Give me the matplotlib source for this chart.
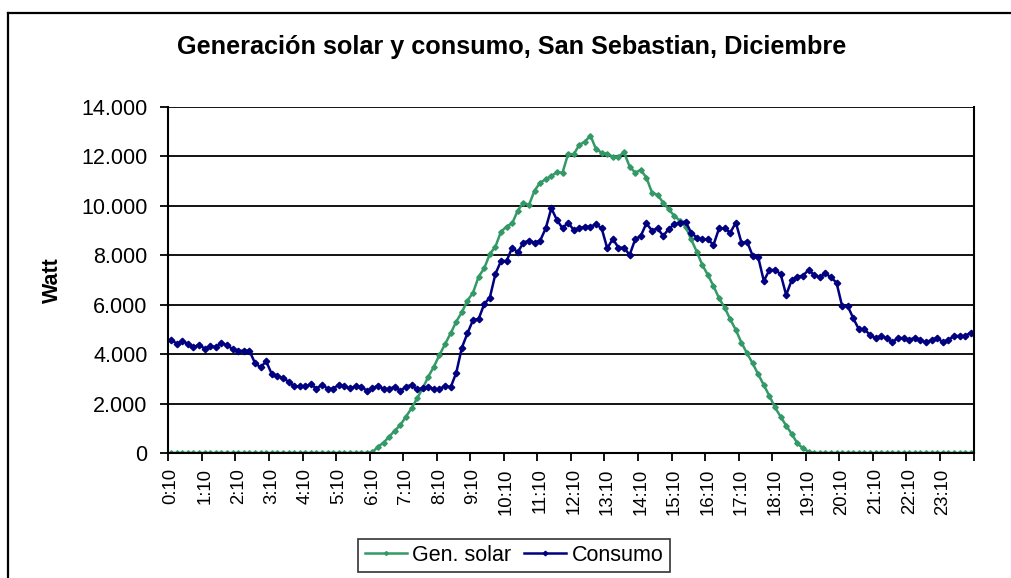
import numpy as np
import matplotlib
matplotlib.use("Agg")
import matplotlib.pyplot as plt
from matplotlib.lines import Line2D

plt.rcParams['font.family'] = ['Liberation Sans', 'DejaVu Sans']

# tiempos cada 10 minutos, de 0:10 a 24:00
horas = [f"{(m // 60)}:{m % 60:02d}" for m in range(10, 24 * 60 + 1, 10)]

gen_solar = [0] * 36 + [
    30, 256, 418, 661, 904, 1133, 1470, 1808, 2212, 2617, 3089, 3494, 3966,
    4411, 4843, 5315, 5700, 6165, 6489, 7136, 7473, 8054,
    8350, 8957, 9160, 9295, 9807, 10131, 10036, 10617, 10940, 11075, 11210,
    11359, 11345, 12100, 12087, 12465, 12600, 12842, 12289, 12155, 12100,
    11993, 11993, 12168, 11588, 11345, 11453, 11143,
    10536, 10441, 10131, 9861, 9591, 9403, 9160, 8647, 8148, 7608, 7204,
    6758, 6259, 5882, 5409, 4978, 4465, 4034, 3629, 3184, 2752, 2307,
    1848, 1470, 1106, 769, 391, 189, 54] + [0] * 29

consumo = [
    4586, 4425, 4519, 4425, 4276, 4384, 4222, 4317, 4290, 4452, 4357, 4209,
    4128, 4141, 4141, 3642, 3467, 3710, 3197, 3103, 3035, 2887, 2698, 2698,
    2698, 2779, 2604, 2765, 2604, 2604, 2765, 2698, 2617, 2698,
    2685, 2523, 2617, 2725, 2590, 2590, 2685, 2509, 2685, 2752, 2577, 2617,
    2685, 2577, 2577, 2725, 2658, 3251, 4263, 4843, 5383, 5423, 6030,
    6286, 7244, 7770, 7770, 8310, 8121, 8512, 8593, 8512, 8593, 9092, 9902,
    9430, 9092, 9322, 9025, 9092, 9160, 9160, 9254, 9092, 8283, 8660, 8310,
    8310, 8013,
    8647, 8782, 9295, 8998, 9092, 8782, 9065, 9254, 9322, 9362, 8917, 8715,
    8647, 8647, 8418, 9092, 9092, 8917, 9322, 8512, 8553, 7986, 7919, 6961,
    7406,
    7406, 7244, 6394, 7001, 7136, 7177, 7406, 7204, 7109, 7271, 7109, 6893,
    5949, 5949, 5450, 5005, 5005, 4775, 4641, 4735, 4641, 4479, 4668, 4641,
    4573, 4668, 4573, 4479, 4573, 4668, 4479, 4573, 4735, 4735, 4735, 4870]

y_ticks = [0, 2000, 4000, 6000, 8000, 10000, 12000, 14000]
y_labels = ['0', '2.000', '4.000', '6.000', '8.000', '10.000', '12.000', '14.000']

x = np.arange(len(horas))

fig = plt.figure(figsize=(10.11, 5.78), dpi=100)
ax = fig.add_axes([168.3 / 1011, 125 / 578, 805.2 / 1011, 346 / 578])

ax.plot(x, gen_solar, color='#339966', lw=1.8, marker='D', ms=2.8,
        label='Gen. solar')
ax.plot(x, consumo, color='#000080', lw=1.8, marker='D', ms=3.3,
        label='Consumo')

ax.set_xlim(-0.5, len(horas) - 0.5)
ax.set_ylim(0, 14000)
ax.set_yticks(y_ticks)
ax.set_yticklabels(y_labels, fontsize=15.5)
ax.yaxis.grid(True, color='black', lw=1.3)
ax.set_axisbelow(True)

# marcas cada hora entre categorias, etiquetas centradas en la categoria
ax.set_xticks(np.arange(-0.5, len(horas), 6))
ax.set_xticklabels([])
ax.set_xticks(x[::6], minor=True)
ax.set_xticklabels(horas[::6], minor=True, rotation=90, fontsize=13.3)
ax.tick_params(axis='x', which='minor', length=0, pad=11)
ax.tick_params(axis='x', which='major', length=6, width=1.3, direction='out')
ax.tick_params(axis='y', length=6, width=1.3, pad=9, direction='out')

for s in ['left', 'bottom', 'right']:
    ax.spines[s].set_linewidth(1.5)
ax.spines['top'].set_visible(False)

fig.text(512 / 1011, 1 - 47 / 578,
         'Generación solar y consumo, San Sebastian, Diciembre',
         ha='center', va='center', fontsize=18.2, fontweight='bold')
fig.text(52 / 1011, 1 - 280 / 578, 'Watt', rotation=90, ha='center',
         va='center', fontsize=15.5, fontweight='bold')

leg = fig.legend(loc='center', bbox_to_anchor=(514 / 1011, 1 - 555.5 / 578),
                 ncol=2, fontsize=15.5, frameon=True, fancybox=False,
                 handlelength=1.95, handletextpad=0.25, columnspacing=0.6,
                 borderpad=0.3, markerscale=0.7)
leg.get_frame().set_edgecolor('black')
leg.get_frame().set_linewidth(1.2)

# marco del grafico (solo izquierda y arriba quedan dentro de la imagen)
yt = 1 - 13 / 578
xl = 8 / 1011
fig.lines.append(Line2D([xl, xl], [0, yt], transform=fig.transFigure,
                        color='black', lw=1.6))
fig.lines.append(Line2D([xl, 1], [yt, yt], transform=fig.transFigure,
                        color='black', lw=1.6))

fig.savefig('out.png', dpi=100)
